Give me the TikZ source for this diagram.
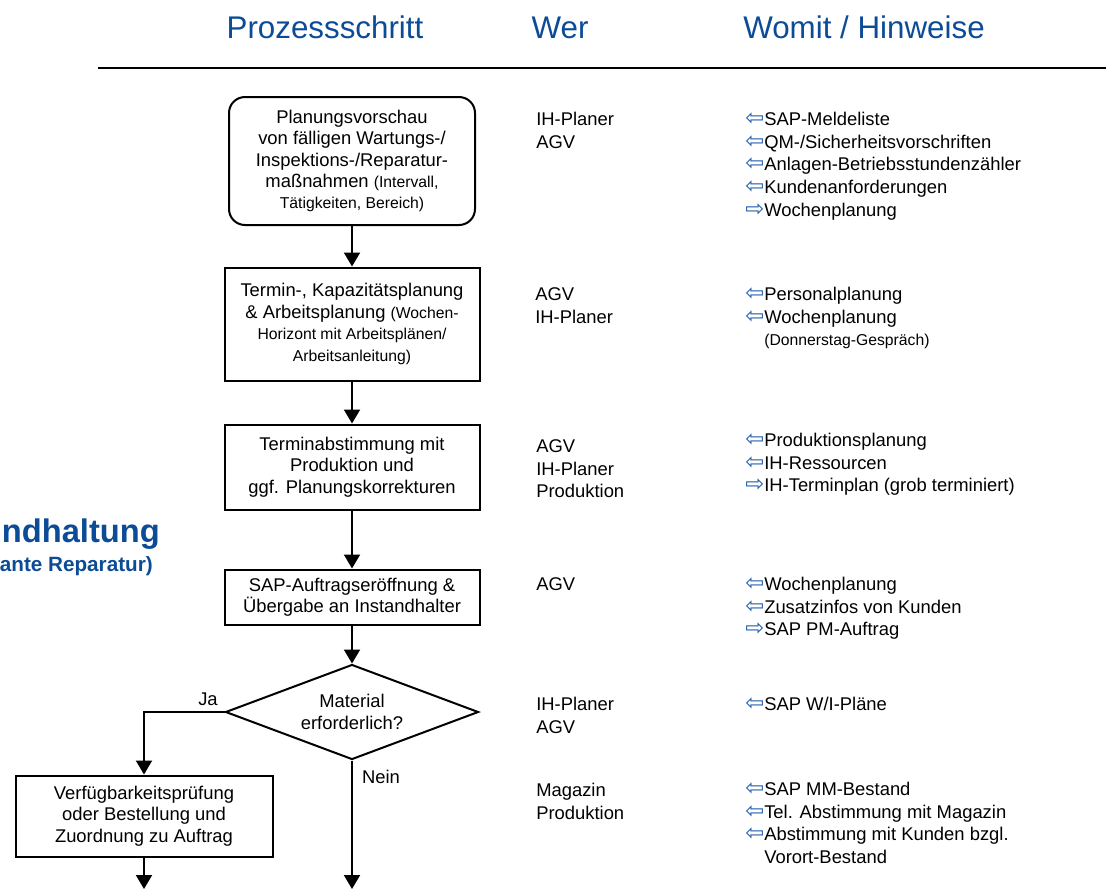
\documentclass[tikz,border=0pt]{standalone}
\usepackage{fontspec}
\setmainfont{Liberation Sans}
\newfontfamily\arrfont{DejaVu Sans}
\usetikzlibrary{shapes.geometric,arrows.meta}

\definecolor{hdblue}{RGB}{12,76,150}
\definecolor{arblue}{RGB}{40,96,176}

\newcommand{\inarr}{{\arrfont\fontsize{17}{12}\selectfont\color{arblue}⇦}}
\newcommand{\outarr}{{\arrfont\fontsize{17}{12}\selectfont\color{arblue}⇨}}
\newcommand{\smtxt}[1]{{\fontsize{11.8}{14}\selectfont #1}}

\tikzset{
  x=0.75pt, y=-0.75pt,
  every node/.style={font=\fontsize{13.8}{16.1}\selectfont, inner sep=0pt},
  hdr/.style={text=hdblue, font=\fontsize{23.5}{28}\selectfont, anchor=base},
  ttl/.style={text=hdblue, font=\bfseries\fontsize{24.5}{30}\selectfont, anchor=base east},
  stepbox/.style={draw, line width=1.5pt, align=center, minimum width=191.25pt},
  decide/.style={draw, line width=1.5pt, align=center, diamond, shape aspect=2.66,
    minimum width=189.75pt, minimum height=71.25pt},
  who/.style={anchor=north west, align=left, font=\fontsize{13.8}{17.2}\selectfont},
  note/.style={anchor=north west, align=left, font=\fontsize{13.8}{17}\selectfont},
  flow/.style={line width=1.5pt, -{Triangle[width=12pt,length=10.5pt]}},
}

\begin{document}
\begin{tikzpicture}
\useasboundingbox (0,0) rectangle (1106,890);

\node[hdr] (h1) at (325,38) {Prozessschritt};
\node[hdr] (h2) at (560,38) {Wer};
\node[hdr] (h3) at (864,38) {Womit / Hinweise};
\coordinate (ls) at (98,68);
\coordinate (le) at (1106,68);
\draw[line width=1.8pt] (ls) -- (le);

\node[ttl] (ttl) at (160,542) {ndhaltung};
\node[ttl, font=\bfseries\fontsize{15.5}{18}\selectfont] (subttl) at (153,571) {ante Reparatur)};

\node[stepbox, rounded corners=12pt, minimum width=184.5pt, minimum height=96pt] (plan) at (352,161)
  {Planungsvorschau\\von fälligen Wartungs-/\\Inspektions-/Reparatur-\\maßnahmen \smtxt{(Intervall,}\\\smtxt{Tätigkeiten, Bereich)}};
\node[stepbox, minimum height=84.75pt] (kap) at (352,324)
  {Termin-, Kapazitätsplanung\\\& Arbeitsplanung \smtxt{(Wochen-}\\\smtxt{Horizont mit Arbeitsplänen/}\\\smtxt{Arbeitsanleitung)}};
\node[stepbox, minimum height=63.75pt] (abst) at (352,467)
  {Terminabstimmung mit\\Produktion und\\ggf. Planungskorrekturen};
\node[stepbox, minimum height=41.25pt] (sap) at (352,597)
  {SAP-Auftragseröffnung \&\\Übergabe an Instandhalter};
\node[decide] (mat) at (352,712) {Material\\erforderlich?};
\node[stepbox, minimum width=192.75pt, minimum height=60.75pt] (verf) at (144,816)
  {Verfügbarkeitsprüfung\\oder Bestellung und\\Zuordnung zu Auftrag};
\coordinate (endA) at (144,889);
\coordinate (endB) at (352,889);

\draw[flow] (plan) -- (kap);
\draw[flow] (kap) -- (abst);
\draw[flow] (abst) -- (sap);
\draw[flow] (sap) -- (mat);
\draw[flow] (mat.west) -| (verf.north);
\draw[flow] (verf) -- (endA);
\draw[flow] (mat) -- (endB);
\node (ja) at (208,699) {Ja};
\node (nein) at (381,777) {Nein};

\node[who] (w1) at (536,112) {IH-Planer\\AGV};
\node[who] (w2) at (535,287) {AGV\\IH-Planer};
\node[who] (w3) at (536,439) {AGV\\IH-Planer\\Produktion};
\node[who] (w4) at (536,577) {AGV};
\node[who] (w5) at (536,697) {IH-Planer\\AGV};
\node[who] (w6) at (536,783) {Magazin\\Produktion};

\node[note] (n1) at (745,112)
  {\inarr SAP-Meldeliste\\\inarr QM-/Sicherheitsvorschriften\\\inarr Anlagen-Betriebsstundenzähler\\\inarr Kundenanforderungen\\\outarr Wochenplanung};
\node[note] (n2) at (745,287)
  {\inarr Personalplanung\\\inarr Wochenplanung\\\hphantom{\inarr}\smtxt{(Donnerstag-Gespräch)}};
\node[note] (n3) at (745,433)
  {\inarr Produktionsplanung\\\inarr IH-Ressourcen\\\outarr IH-Terminplan (grob terminiert)};
\node[note] (n4) at (745,577)
  {\inarr Wochenplanung\\\inarr Zusatzinfos von Kunden\\\outarr SAP PM-Auftrag};
\node[note] (n5) at (745,697) {\inarr SAP W/I-Pläne};
\node[note] (n6) at (745,782)
  {\inarr SAP MM-Bestand\\\inarr Tel. Abstimmung mit Magazin\\\inarr Abstimmung mit Kunden bzgl.\\\hphantom{\inarr}Vorort-Bestand};
\end{tikzpicture}
\end{document}
